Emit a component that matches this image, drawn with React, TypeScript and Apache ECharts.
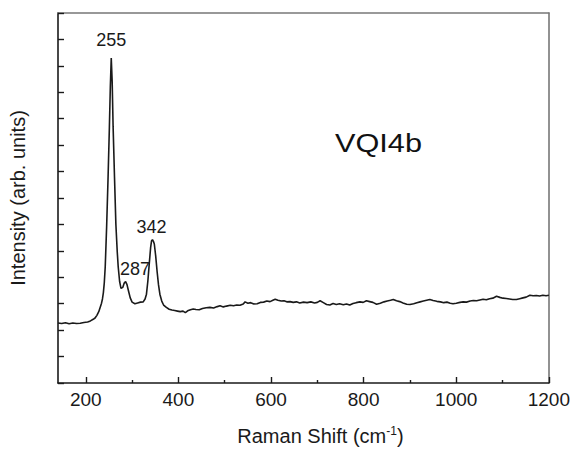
import React, { useEffect, useRef } from "react";
import * as echarts from "echarts";

// Raman shift (cm^-1) and intensity (arb. units)
const ramanShift: number[] = [
  140, 148, 156, 164, 172, 180, 188, 196, 204, 210, 216, 220, 224, 228, 231, 234, 236, 238, 240, 242,
  245, 248, 251, 253, 255, 257, 259, 262, 265, 268, 270, 273, 276, 280, 283, 286, 289, 292, 296, 300,
  306, 312, 318, 324, 328, 331, 334, 337, 340, 342, 344, 346, 348, 351, 354, 357, 360, 364, 368, 374,
  380, 386, 392, 398, 404, 410, 415, 420, 426, 432, 438, 445, 452, 460, 468, 476, 484, 490, 497, 504,
  512, 519, 526, 533, 540, 544, 550, 556, 563, 570, 577, 584, 591, 598, 604, 609, 615, 622, 628, 634,
  641, 648, 655, 662, 670, 678, 686, 694, 700, 706, 713, 720, 727, 734, 741, 748, 756, 763, 770, 777,
  784, 792, 799, 806, 813, 820, 828, 836, 844, 851, 858, 864, 871, 878, 885, 893, 900, 908, 915, 922,
  929, 936, 943, 950, 958, 966, 973, 980, 987, 993, 1000, 1008, 1015, 1022, 1030, 1037, 1044, 1051, 1058, 1065,
  1072, 1079, 1087, 1094, 1101, 1108, 1115, 1122, 1130, 1137, 1144, 1151, 1159, 1166, 1173, 1180, 1187, 1194, 1200,
];
const intensity: number[] = [
  2.27, 2.25, 2.28, 2.24, 2.27, 2.25, 2.26, 2.29, 2.31, 2.35, 2.41, 2.46, 2.56, 2.7, 2.86, 3.02, 3.18, 3.42, 3.8, 4.4,
  5.9, 7.7, 9.7, 11.2, 12.3, 11.4, 9.7, 7.8, 6.0, 4.95, 4.4, 3.85, 3.58, 3.62, 3.78, 3.84, 3.72, 3.5, 3.22, 3.06,
  3.0, 3.03, 3.06, 3.07, 3.18, 3.36, 3.85, 4.5, 5.12, 5.38, 5.42, 5.36, 5.26, 4.8, 4.22, 3.72, 3.36, 3.1, 2.95, 2.86,
  2.79, 2.76, 2.74, 2.72, 2.7, 2.72, 2.66, 2.73, 2.77, 2.8, 2.78, 2.77, 2.82, 2.85, 2.86, 2.84, 2.89, 2.92, 2.88, 2.91,
  2.94, 2.92, 2.95, 2.94, 2.99, 3.07, 3.02, 3.04, 2.99, 3.0, 3.05, 3.06, 3.1, 3.08, 3.13, 3.17, 3.13, 3.1, 3.11, 3.07,
  3.08, 3.05, 3.07, 3.03, 3.06, 3.04, 3.07, 3.03, 3.05, 3.11, 3.04, 2.97, 2.95, 3.01, 2.97, 3.0, 2.96, 2.99, 2.95, 3.01,
  3.04, 3.07, 3.05, 3.11, 3.08, 3.05, 2.98, 3.02, 3.07, 3.1, 3.13, 3.16, 3.11, 3.08, 3.03, 2.98, 2.97, 3.0, 3.04, 3.07,
  3.1, 3.13, 3.16, 3.12, 3.09, 3.07, 3.04, 3.06, 3.02, 3.0, 3.02, 3.05, 3.07, 3.06, 3.1, 3.12, 3.11, 3.14, 3.17, 3.15,
  3.19, 3.21, 3.28, 3.24, 3.21, 3.2, 3.18, 3.16, 3.16, 3.19, 3.22, 3.25, 3.32, 3.3, 3.31, 3.29, 3.32, 3.3, 3.32,
];

const peakShifts: number[] = [255, 287, 342];
const peakLabels: string[] = ["255", "287", "342"];

const majorTicks: number[] = [200, 400, 600, 800, 1000, 1200];
const minorTicks: number[] = [300, 500, 700, 900, 1100];

const sampleName = "VQI4b";

export default function App() {
  const ref = useRef<HTMLDivElement>(null);

  useEffect(() => {
    if (!ref.current) return;
    const chart = echarts.init(ref.current, null, { renderer: "svg" });
    const font = "'Liberation Sans', Arial, Helvetica, sans-serif";
    const seriesData = ramanShift.map((x, i) => [x, intensity[i]]);
    const valueAt = (x: number) => {
      let best = 0;
      for (let i = 0; i < ramanShift.length; i++) {
        if (Math.abs(ramanShift[i] - x) < Math.abs(ramanShift[best] - x)) best = i;
      }
      return intensity[best];
    };
    const labelOffsets: Record<string, number[]> = {
      "255": [0, 0],
      "287": [9, 5],
      "342": [0, 4],
    };

    chart.setOption({
      animation: false,
      backgroundColor: "#ffffff",
      grid: { left: 58, right: 24, top: 13, bottom: 64, containLabel: false },
      xAxis: [
        {
          type: "value",
          min: 140,
          max: 1200,
          position: "bottom",
          name: "{a|Raman Shift (cm}{s|-1}{a|)}",
          nameLocation: "middle",
          nameGap: 42,
          nameTextStyle: {
            padding: [0, 0, 0, 34],
            rich: {
              a: { fontFamily: font, fontSize: 20, color: "#1a1a1a", lineHeight: 22 },
              s: { fontFamily: font, fontSize: 12, color: "#1a1a1a", verticalAlign: "top", lineHeight: 22, padding: [0, 0, 8, 0] },
            },
          },
          axisLine: { show: true, lineStyle: { color: "#1a1a1a", width: 1.6 } },
          axisTick: { show: true, inside: true, length: 6, customValues: majorTicks, lineStyle: { color: "#1a1a1a", width: 1.4 } },
          axisLabel: {
            show: true,
            customValues: majorTicks,
            margin: 7,
            fontFamily: font,
            fontSize: 19,
            color: "#1a1a1a",
            formatter: (v: number) => String(Math.round(v)),
          },
          splitLine: { show: false },
        },
        {
          type: "value",
          min: 140,
          max: 1200,
          position: "bottom",
          axisLine: { show: false },
          axisTick: { show: true, inside: true, length: 3, customValues: minorTicks, lineStyle: { color: "#1a1a1a", width: 1.4 } },
          axisLabel: { show: false },
          splitLine: { show: false },
        },
        {
          type: "value",
          min: 140,
          max: 1200,
          position: "top",
          axisLine: { show: true, lineStyle: { color: "#777777", width: 1.6 } },
          axisTick: { show: false },
          axisLabel: { show: false },
          splitLine: { show: false },
        },
      ],
      yAxis: [
        {
          type: "value",
          min: 0,
          max: 14,
          interval: 1,
          position: "left",
          name: "Intensity (arb. units)",
          nameLocation: "middle",
          nameGap: 30,
          nameTextStyle: { fontFamily: font, fontSize: 20, color: "#1a1a1a" },
          axisLine: { show: true, lineStyle: { color: "#1a1a1a", width: 1.6 } },
          axisTick: { show: true, inside: true, length: 6, lineStyle: { color: "#1a1a1a", width: 1.4 } },
          axisLabel: { show: false },
          splitLine: { show: false },
        },
        {
          type: "value",
          min: 0,
          max: 14,
          interval: 1,
          position: "right",
          axisLine: { show: true, lineStyle: { color: "#777777", width: 1.6 } },
          axisTick: { show: false },
          axisLabel: { show: false },
          splitLine: { show: false },
        },
      ],
      graphic: [
        {
          type: "text",
          x: 335,
          y: 130,
          scaleX: 1.18,
          scaleY: 1,
          style: { text: sampleName, fontFamily: font, fontSize: 26, fill: "#111111" },
        },
      ],
      series: [
        {
          type: "line",
          xAxisIndex: 0,
          yAxisIndex: 0,
          data: seriesData,
          showSymbol: false,
          symbol: "none",
          lineStyle: { color: "#1a1a1a", width: 1.6 },
          markPoint: {
            symbol: "circle",
            symbolSize: 0,
            silent: true,
            data: peakShifts.map((x, i) => ({
              coord: [x, valueAt(x)],
              value: peakLabels[i],
              label: {
                show: true,
                position: "top",
                distance: 9,
                offset: labelOffsets[peakLabels[i]],
                formatter: peakLabels[i],
                fontFamily: font,
                fontSize: 18,
                color: "#1a1a1a",
              },
            })),
          },
        },
      ],
    });
    return () => chart.dispose();
  }, []);

  return (
    <div
      ref={ref}
      style={{ position: "fixed", left: 0, top: 0, width: 573, height: 451, background: "#ffffff" }}
    />
  );
}
